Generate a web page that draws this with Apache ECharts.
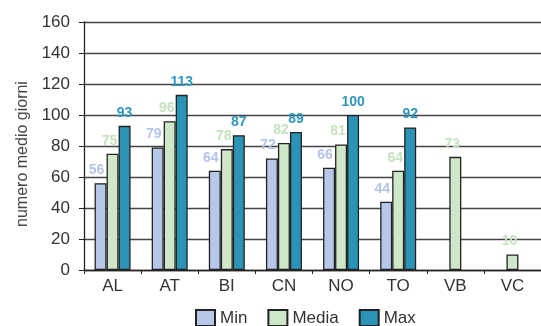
<!DOCTYPE html>
<html>
<head>
<meta charset="utf-8">
<script src="https://cdn.jsdelivr.net/npm/echarts@6/dist/echarts.min.js"></script>
<style>
  html, body { margin: 0; padding: 0; background: #fff; }
  #chart { width: 541px; height: 326px; }
</style>
</head>
<body>
<div id="chart"></div>
<script>
// dati
const province = ['AL', 'AT', 'BI', 'CN', 'NO', 'TO', 'VB', 'VC'];
const minGiorni = [56, 79, 64, 72, 66, 44, null, null];
const mediaGiorni = [75, 96, 78, 82, 81, 64, 73, 10];
const maxGiorni = [93, 113, 87, 89, 100, 92, null, null];
const yTicks = [0, 20, 40, 60, 80, 100, 120, 140, 160];

function makeSeries(name, data, color, labelColor, offX) {
    return {
        name: name,
        type: 'bar',
        data: data,
        barWidth: 12,
        barGap: '0%',
        itemStyle: { color: color, borderColor: '#222', borderWidth: 1.3 },
        label: {
            show: true,
            position: 'top',
            offset: [offX, 0],
            distance: 6,
            color: labelColor,
            fontFamily: 'Liberation Sans',
            fontWeight: 'bold',
            fontSize: 14
        }
    };
}

var chartDom = document.getElementById('chart');
var myChart = echarts.init(chartDom);
var option = {
    animation: false,
    textStyle: { fontFamily: 'Liberation Sans' },
    grid: { left: 84, top: 22, width: 462, height: 248 },
    legend: {
        top: 309,
        left: 195,
        padding: 0,
        icon: 'rect',
        itemWidth: 19,
        itemHeight: 16,
        itemGap: 20,
        textStyle: { fontSize: 17, color: '#333' },
        data: ['Min', 'Media', 'Max']
    },
    xAxis: {
        type: 'category',
        data: province,
        axisLine: { lineStyle: { color: '#222', width: 1.3 } },
        axisTick: { show: true, length: 4, lineStyle: { color: '#222' } },
        axisLabel: { fontSize: 17, color: '#333', margin: 8 }
    },
    yAxis: {
        type: 'value',
        min: yTicks[0],
        max: yTicks[yTicks.length - 1],
        interval: 20,
        name: 'numero medio giorni',
        nameLocation: 'middle',
        nameGap: 52,
        nameTextStyle: { fontSize: 16, color: '#444', padding: [0, 0, 0, -16] },
        axisLine: { show: true, lineStyle: { color: '#222', width: 1.3 } },
        axisTick: { show: true, length: 5, inside: false, lineStyle: { color: '#222' } },
        axisLabel: { fontSize: 17, color: '#333', margin: 14 },
        splitLine: { lineStyle: { color: '#444', width: 1.3 } }
    },
    series: [
        makeSeries('Min', minGiorni, '#b7c7e8', '#b4c4e6', -4),
        makeSeries('Media', mediaGiorni, '#cfe7c9', '#c4e3bd', -3),
        makeSeries('Max', maxGiorni, '#2b93b6', '#2f97bb', 0)
    ]
};
option && myChart.setOption(option);
</script>
</body>
</html>
